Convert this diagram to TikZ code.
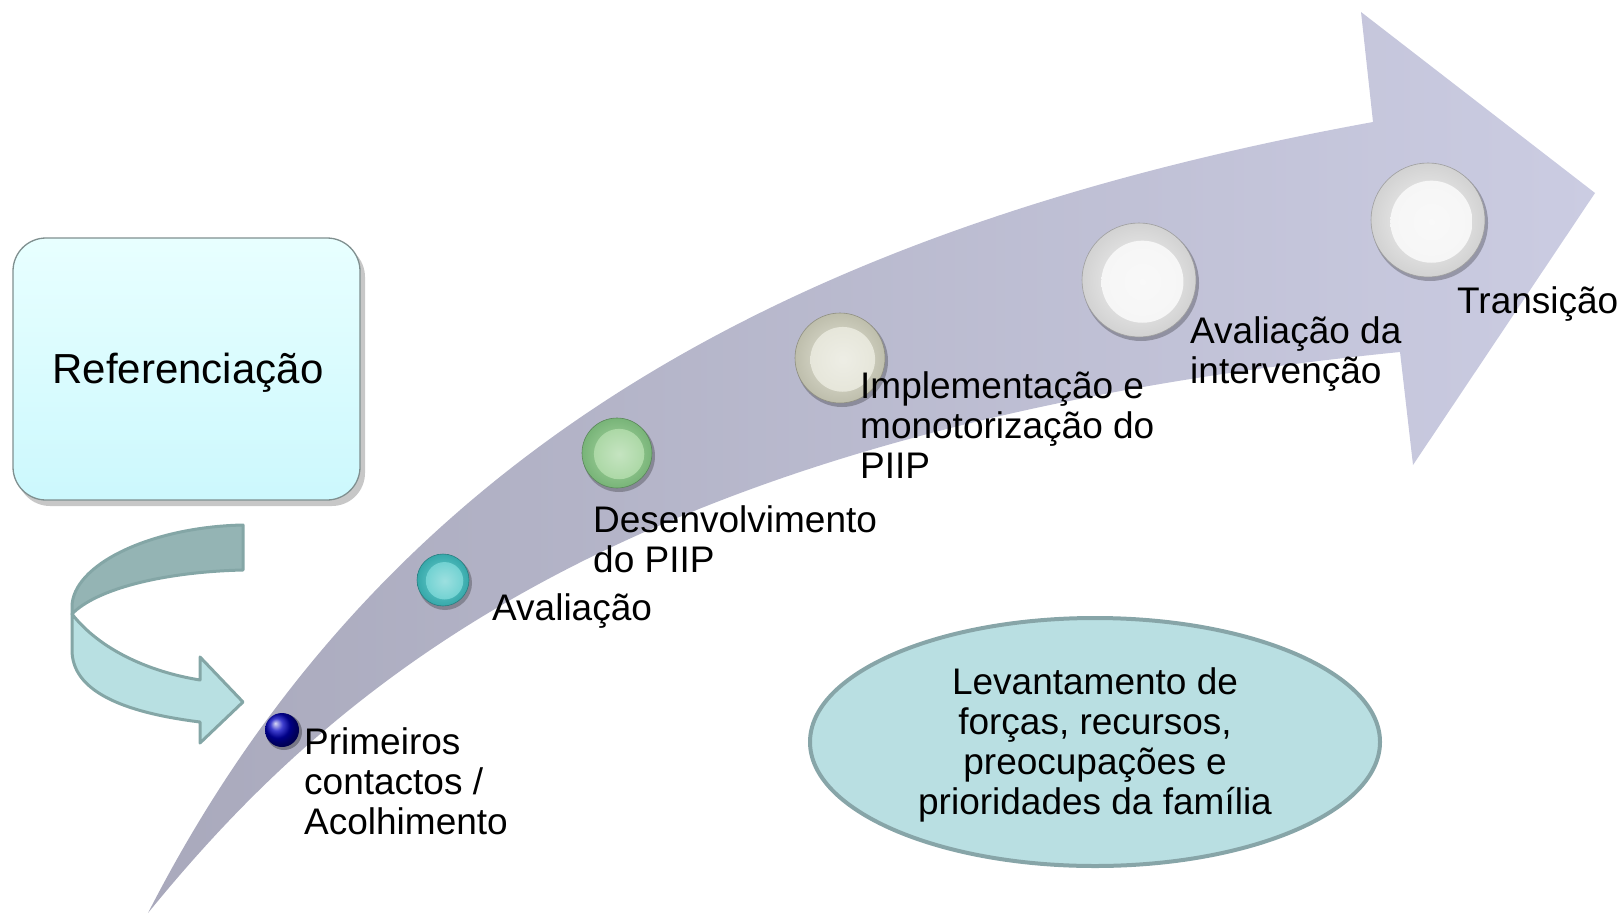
\documentclass[tikz,border=0pt]{standalone}
\usepackage{fontspec}
\setmainfont{Liberation Sans}
\definecolor{arrowL}{HTML}{A9A9BC}
\definecolor{arrowR}{HTML}{CBCCE2}
\definecolor{uDark}{HTML}{94B4B4}
\definecolor{uLight}{HTML}{B8E0E2}
\definecolor{uLine}{HTML}{84A6A6}
\definecolor{boxTop}{HTML}{E8FFFF}
\definecolor{boxBot}{HTML}{CCF8FD}
\definecolor{boxLine}{HTML}{7F8F8F}
\definecolor{ellFill}{HTML}{B9DFE2}
\definecolor{ellLine}{HTML}{87A5A8}
\definecolor{tealD}{HTML}{36A8AA}
\definecolor{tealL}{HTML}{72D2D2}
\definecolor{greenD}{HTML}{78B478}
\definecolor{greenL}{HTML}{ACD8A6}
\definecolor{beigeD}{HTML}{BEBEAC}
\definecolor{beigeL}{HTML}{E6E6DA}
\definecolor{whiteD}{HTML}{D2D2D2}
\definecolor{whiteL}{HTML}{F6F6F6}
\newcommand\mylines[1]{\begin{tabular}[t]{@{}l@{}}#1\end{tabular}}
\newcommand\mycentered[1]{\begin{tabular}[t]{@{}c@{}}#1\end{tabular}}
\newcommand\mybtn[6]{%
  \fill[black,opacity=.25] ({#2+2},{#3+3}) circle[radius=#4+1];
  \shade[inner color=#6, outer color=#5] (#2,#3) circle[radius=#4];
  \draw[#5!75!black, line width=.6pt] (#2,#3) circle[radius=#4];
  \shade[inner color=white!30!#6, outer color=#6] ({#2+0.06*#4},{#3+0.03*#4}) circle[radius=0.72*#4];
  \node[circle, inner sep=0pt, minimum size={2*#4}] (#1) at (#2,#3) {};
}
\begin{document}
\begin{tikzpicture}[x=1pt,y=-1pt,
  lbl/.style={anchor=base west, inner sep=0pt, font=\fontsize{37}{40}\selectfont},
  ulines/.style={draw=uLine, line width=3pt, line join=round}]
\useasboundingbox (0,0) rectangle (1624,915);

% big curved arrow
\shade[left color=arrowL, right color=arrowR]
  (148,913) .. controls (380,460) and (780,230) .. (1373,122)
  -- (1361,12) -- (1595,193) -- (1413,465) -- (1400,352)
  .. controls (620,430) and (330,690) .. (148,913) -- cycle;

% Referenciacao box
\fill[black,opacity=.22,rounded corners=33] (17,244) rectangle (365,506);
\shade[top color=boxTop, bottom color=boxBot, rounded corners=33] (13,238) rectangle (360,500);
\draw[boxLine, line width=1.3pt, rounded corners=33] (13,238) rectangle (360,500);
\node[anchor=base, inner sep=0pt, font=\fontsize{42}{46}\selectfont] (ref) at (188,383) {Referenciação};

% U-turn arrow
\filldraw[ulines, fill=uDark]
  (243,525) .. controls (150,527) and (72,565) .. (72,607) -- (72,614)
  .. controls (95,590) and (160,572) .. (243,570) -- cycle;
\filldraw[ulines, fill=uLight]
  (72,614) .. controls (100,650) and (150,672) .. (200,680)
  -- (200,657) -- (243,702) -- (200,743) -- (200,722)
  .. controls (120,712) and (72,690) .. (72,650) -- cycle;
\coordinate (uend) at (243,702);

% buttons
\fill[black,opacity=.3] (284,732) circle[radius=18];
\shade[ball color=blue!75!black] (282,730) circle[radius=17];
\node[circle, inner sep=0pt, minimum size=34pt] (b1) at (282,730) {};
\mybtn{b2}{443}{580}{26}{tealD}{tealL}
\mybtn{b3}{617}{453}{35}{greenD}{greenL}
\mybtn{b4}{840}{358}{45}{beigeD}{beigeL}
\mybtn{b5}{1139}{280}{57}{whiteD}{whiteL}
\mybtn{b6}{1428}{220}{57}{whiteD}{whiteL}

% labels
\node[lbl] (t1) at (304,754) {\mylines{Primeiros\\contactos /\\Acolhimento}};
\node[lbl] (t2) at (492,620) {Avaliação};
\node[lbl] (t3) at (593,532) {\mylines{Desenvolvimento\\do PIIP}};
\node[lbl] (t4) at (860,398) {\mylines{Implementação e\\monotorização do\\PIIP}};
\node[lbl] (t5) at (1190,343) {\mylines{Avaliação da\\intervenção}};
\node[lbl] (t6) at (1457,313) {Transição};

% ellipse
\filldraw[fill=ellFill, draw=ellLine, line width=4pt] (1095,742) ellipse[x radius=285, y radius=124];
\node[anchor=base, inner sep=0pt, font=\fontsize{37}{40}\selectfont] (ell) at (1095,694)
  {\mycentered{Levantamento de\\forças, recursos,\\preocupações e\\prioridades da família}};
\end{tikzpicture}
\end{document}
